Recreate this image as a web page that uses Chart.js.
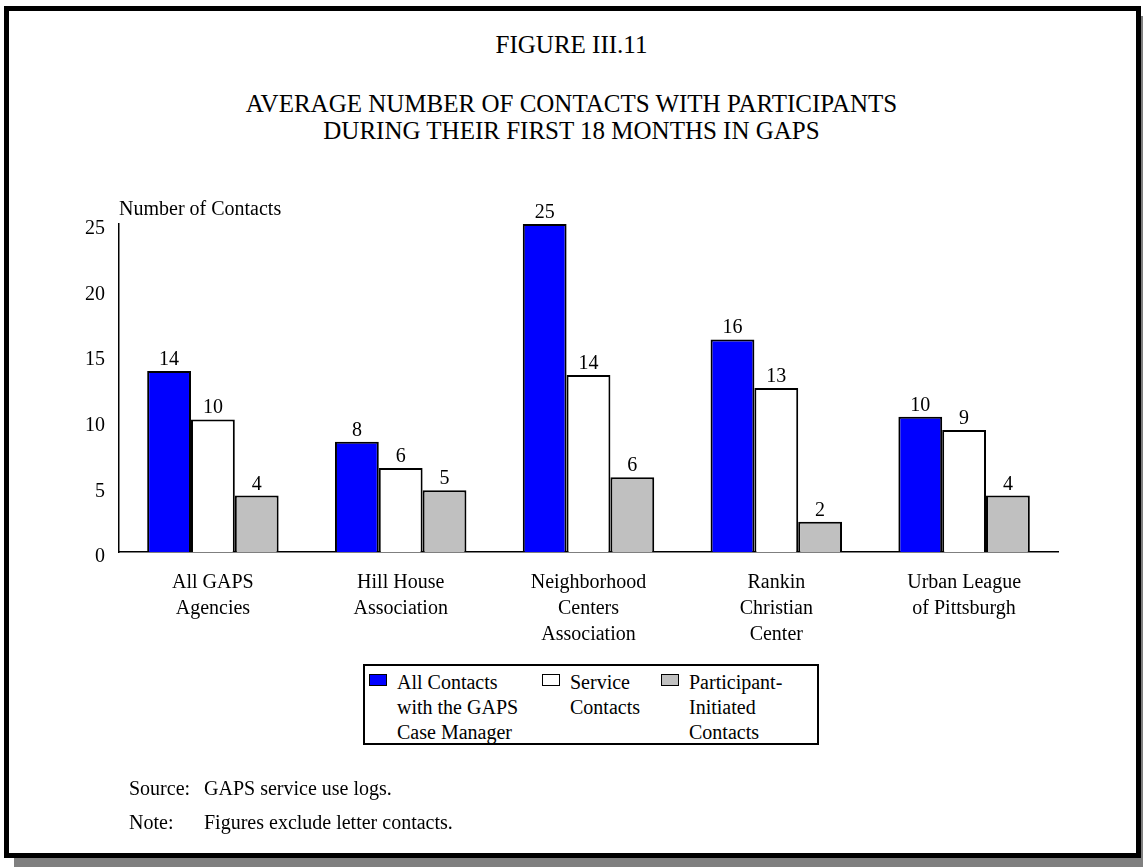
<!DOCTYPE html>
<html>
<head>
<meta charset="utf-8">
<script src="https://cdn.jsdelivr.net/npm/chart.js@4.4.1/dist/chart.umd.min.js"></script>
<style>
  html, body { margin: 0; padding: 0; background: #fff; }
  body { width: 1143px; height: 867px; position: relative; overflow: hidden;
         font-family: "Liberation Serif", "Times New Roman", serif; color: #000; }
  #frame { position: absolute; left: 4px; top: 6px; width: 1127px; height: 842px;
           border: 5px solid #000; box-shadow: 10px 10px 0 #808080; background: #fff; }
  #chart { position: absolute; left: 0; top: 0; }
  .title { position: absolute; left: 0; width: 1143px; text-align: center; font-size: 25px; line-height: 27px; }
  #legend { position: absolute; left: 363px; top: 664px; width: 452px; height: 77px;
            border: 2px solid #000; background: #fff; }
  .item { position: absolute; top: 4px; font-size: 20px; line-height: 25px; }
  .swatch { position: absolute; left: 0; top: 4px; width: 16px; height: 10px; border: 1.5px solid #000; }
  .item span { position: absolute; left: 28px; top: 0; white-space: nowrap; }
  .foot { position: absolute; left: 129px; font-size: 20px; line-height: 22px; white-space: pre; }
  .foot b { font-weight: normal; display: inline-block; width: 75px; }
</style>
</head>
<body>
<div id="frame"></div>
<div class="title" style="top:31px">FIGURE III.11</div>
<div class="title" style="top:90px">AVERAGE NUMBER OF CONTACTS WITH PARTICIPANTS<br>DURING THEIR FIRST 18 MONTHS IN GAPS</div>
<canvas id="chart" width="1143" height="867"></canvas>
<div id="legend"></div>
<div class="foot" style="top:777px"><b>Source:</b>GAPS service use logs.</div>
<div class="foot" style="top:811px"><b>Note:</b>Figures exclude letter contacts.</div>
<script>
const categories = [
  ['All GAPS', 'Agencies'],
  ['Hill House', 'Association'],
  ['Neighborhood', 'Centers', 'Association'],
  ['Rankin', 'Christian', 'Center'],
  ['Urban League', 'of Pittsburgh']
];
const seriesNames = [
  ['All Contacts', 'with the GAPS', 'Case Manager'],
  ['Service', 'Contacts'],
  ['Participant-', 'Initiated', 'Contacts']
];
const allContacts = [13.8, 8.4, 25.0, 16.2, 10.3];
const serviceContacts = [10.1, 6.4, 13.5, 12.5, 9.3];
const participantContacts = [4.3, 4.7, 5.7, 2.3, 4.3];
const yAxisLabel = 'Number of Contacts';

const serif = '"Liberation Serif", "Times New Roman", serif';

// value labels above each bar (rounded, as in the original)
const valueLabels = {
  id: 'valueLabels',
  afterDatasetsDraw(chart) {
    const ctx = chart.ctx;
    ctx.save();
    ctx.font = '20px ' + serif;
    ctx.fillStyle = '#000';
    ctx.textAlign = 'center';
    ctx.textBaseline = 'alphabetic';
    chart.data.datasets.forEach((ds, i) => {
      chart.getDatasetMeta(i).data.forEach((bar, j) => {
        ctx.fillText(String(Math.round(ds.data[j])), bar.x, bar.y - 6);
      });
    });
    ctx.restore();
  }
};

// caption sitting on top of the y axis
const axisCaption = {
  id: 'axisCaption',
  afterDraw(chart) {
    const ctx = chart.ctx;
    ctx.save();
    ctx.font = '20px ' + serif;
    ctx.fillStyle = '#000';
    ctx.textAlign = 'left';
    ctx.textBaseline = 'middle';
    ctx.fillText(yAxisLabel, chart.chartArea.left, chart.chartArea.top - 14);
    ctx.restore();
  }
};

const chart = new Chart(document.getElementById('chart'), {
  type: 'bar',
  data: {
    labels: categories,
    datasets: [
      { label: seriesNames[0].join(' '), data: allContacts, backgroundColor: '#0000ff' },
      { label: seriesNames[1].join(' '), data: serviceContacts, backgroundColor: '#ffffff' },
      { label: seriesNames[2].join(' '), data: participantContacts, backgroundColor: '#c0c0c0' }
    ]
  },
  options: {
    responsive: false,
    animation: false,
    devicePixelRatio: 1,
    datasets: {
      bar: { borderColor: '#000', borderWidth: 2, borderSkipped: 'bottom',
             categoryPercentage: 0.7, barPercentage: 1.0 }
    },
    layout: { padding: { left: 0, right: 85, top: 224, bottom: 215 } },
    plugins: {
      legend: { display: false },
      tooltip: { enabled: false },
      title: { display: false }
    },
    scales: {
      x: {
        grid: { display: false, drawTicks: false },
        border: { color: '#000', width: 1.5 },
        ticks: { color: '#000', font: { family: serif, size: 20, lineHeight: 1.3 },
                 padding: 18, maxRotation: 0, autoSkip: false },
        afterFit(scale) { scale.height = 100; }
      },
      y: {
        min: 0, max: 25,
        grid: { display: false, drawTicks: false },
        border: { color: '#000', width: 1.5 },
        ticks: { stepSize: 5, color: '#000', font: { family: serif, size: 20 },
                 padding: 14, labelOffset: 5 },
        afterFit(scale) { scale.width = 119; }
      }
    }
  },
  plugins: [valueLabels, axisCaption]
});

// legend built from the datasets
const legend = document.getElementById('legend');
const itemLeft = [4, 177, 296];
chart.data.datasets.forEach((ds, i) => {
  const item = document.createElement('div');
  item.className = 'item';
  item.style.left = itemLeft[i] + 'px';
  const sw = document.createElement('div');
  sw.className = 'swatch';
  sw.style.background = ds.backgroundColor;
  const txt = document.createElement('span');
  txt.innerHTML = seriesNames[i].join('<br>');
  item.appendChild(sw);
  item.appendChild(txt);
  legend.appendChild(item);
});
</script>
</body>
</html>
